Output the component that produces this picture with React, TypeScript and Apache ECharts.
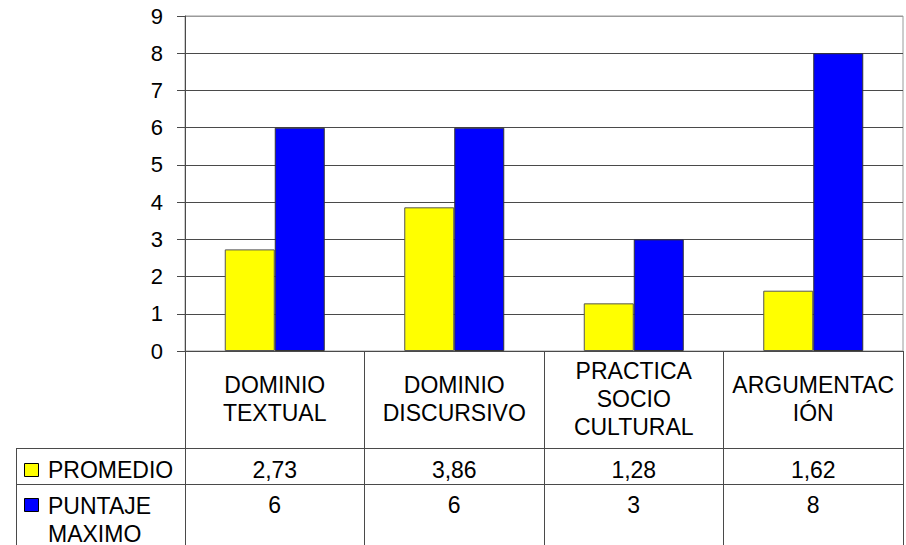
import React, { useEffect, useRef } from "react";
import * as echarts from "echarts";

const categories = [
  "DOMINIO\nTEXTUAL",
  "DOMINIO\nDISCURSIVO",
  "PRACTICA\nSOCIO\nCULTURAL",
  "ARGUMENTAC\nIÓN",
];
const promedio = [2.73, 3.86, 1.28, 1.62];
const puntajeMaximo = [6, 6, 3, 8];
const seriesNames = ["PROMEDIO", "PUNTAJE\nMAXIMO"];
const seriesColors = ["#FFFF00", "#0000FF"];
const yMin = 0;
const yMax = 9;
const yInterval = 1;

const FONT = "'Liberation Sans', Arial, sans-serif";
const LINE = "#4a4a4a";

const fmt = (v: number) => String(v).replace(".", ",");

export default function App() {
  const ref = useRef<HTMLDivElement>(null);

  useEffect(() => {
    if (!ref.current) return;
    const chart = echarts.init(ref.current, null, { renderer: "svg" });

    const W = 906;
    const H = 545;
    const gridLeft = 185;
    const gridRight = 3;
    const gridTop = 16;
    const gridBottom = 194;
    const row2Top = 448;
    const row3Top = 484;
    const tableLeft = 16;
    const plotRight = W - gridRight;

    const splitColors: string[] = [];
    for (let v = yMin; v <= yMax; v += yInterval) {
      splitColors.push(v === yMax ? "#9a9a9a" : LINE);
    }

    const labelStyle = {
      fontFamily: FONT,
      fontSize: 23,
      color: "#000",
    };

    const option: any = {
      animation: false,
      backgroundColor: "#ffffff",
      textStyle: { fontFamily: FONT },
      grid: {
        left: gridLeft,
        right: gridRight,
        top: gridTop,
        bottom: gridBottom,
        show: true,
        borderColor: "#9a9a9a",
        borderWidth: 1,
        backgroundColor: "transparent",
      },
      xAxis: [
        {
          type: "category",
          position: "bottom",
          data: categories,
          axisLine: { show: true, lineStyle: { color: LINE, width: 1 } },
          axisTick: {
            show: true,
            interval: 0,
            length: gridBottom,
            lineStyle: { color: LINE, width: 1 },
          },
          axisLabel: {
            interval: 0,
            margin: 48,
            verticalAlign: "middle",
            lineHeight: 28,
            ...labelStyle,
          },
          splitLine: { show: false },
        },
        {
          type: "category",
          position: "bottom",
          data: promedio.map(fmt),
          axisLine: { show: false },
          axisTick: { show: false },
          axisLabel: {
            interval: 0,
            margin: 119,
            verticalAlign: "middle",
            ...labelStyle,
          },
          splitLine: { show: false },
        },
        {
          type: "category",
          position: "bottom",
          data: puntajeMaximo.map(fmt),
          axisLine: { show: false },
          axisTick: { show: false },
          axisLabel: {
            interval: 0,
            margin: 154,
            verticalAlign: "middle",
            ...labelStyle,
          },
          splitLine: { show: false },
        },
      ],
      yAxis: {
        type: "value",
        min: yMin,
        max: yMax,
        interval: yInterval,
        axisLine: { show: true, lineStyle: { color: LINE, width: 1 } },
        axisTick: {
          show: true,
          inside: false,
          length: 8,
          lineStyle: { color: LINE, width: 1 },
        },
        axisLabel: {
          margin: 22,
          fontFamily: FONT,
          fontSize: 22,
          color: "#000",
        },
        splitLine: {
          show: true,
          lineStyle: { color: splitColors, width: 1 },
        },
      },
      series: [
        {
          name: seriesNames[0],
          type: "bar",
          xAxisIndex: 0,
          data: promedio,
          barWidth: 50,
          barGap: "0%",
          itemStyle: {
            color: seriesColors[0],
            borderColor: "#555555",
            borderWidth: 1,
          },
        },
        {
          name: seriesNames[1],
          type: "bar",
          xAxisIndex: 0,
          data: puntajeMaximo,
          barWidth: 50,
          barGap: "0%",
          itemStyle: {
            color: seriesColors[1],
            borderColor: "#333333",
            borderWidth: 1,
          },
        },
      ],
      graphic: [
        {
          type: "line",
          shape: { x1: tableLeft, y1: row2Top + 0.5, x2: plotRight, y2: row2Top + 0.5 },
          style: { stroke: LINE, lineWidth: 1 },
          silent: true,
        },
        {
          type: "line",
          shape: { x1: tableLeft, y1: row3Top + 0.5, x2: plotRight, y2: row3Top + 0.5 },
          style: { stroke: LINE, lineWidth: 1 },
          silent: true,
        },
        {
          type: "line",
          shape: { x1: tableLeft + 0.5, y1: row2Top, x2: tableLeft + 0.5, y2: H },
          style: { stroke: LINE, lineWidth: 1 },
          silent: true,
        },
        {
          type: "rect",
          shape: { x: 24.5, y: 463.5, width: 14, height: 13 },
          style: { fill: seriesColors[0], stroke: "#000", lineWidth: 1 },
          silent: true,
        },
        {
          type: "text",
          x: 48,
          y: 470,
          style: {
            text: seriesNames[0],
            fontFamily: FONT,
            fontSize: 23,
            fill: "#000",
            verticalAlign: "middle",
            align: "left",
          },
          silent: true,
        },
        {
          type: "rect",
          shape: { x: 24.5, y: 498.5, width: 14, height: 13 },
          style: { fill: seriesColors[1], stroke: "#000", lineWidth: 1 },
          silent: true,
        },
        {
          type: "text",
          x: 48,
          y: 491.5,
          style: {
            text: seriesNames[1],
            fontFamily: FONT,
            fontSize: 23,
            lineHeight: 28,
            fill: "#000",
            verticalAlign: "top",
            align: "left",
          },
          silent: true,
        },
      ],
    };

    chart.setOption(option);
    return () => chart.dispose();
  }, []);

  return (
    <div
      ref={ref}
      style={{
        position: "fixed",
        left: 0,
        top: 0,
        width: 906,
        height: 545,
        background: "#fff",
      }}
    />
  );
}
